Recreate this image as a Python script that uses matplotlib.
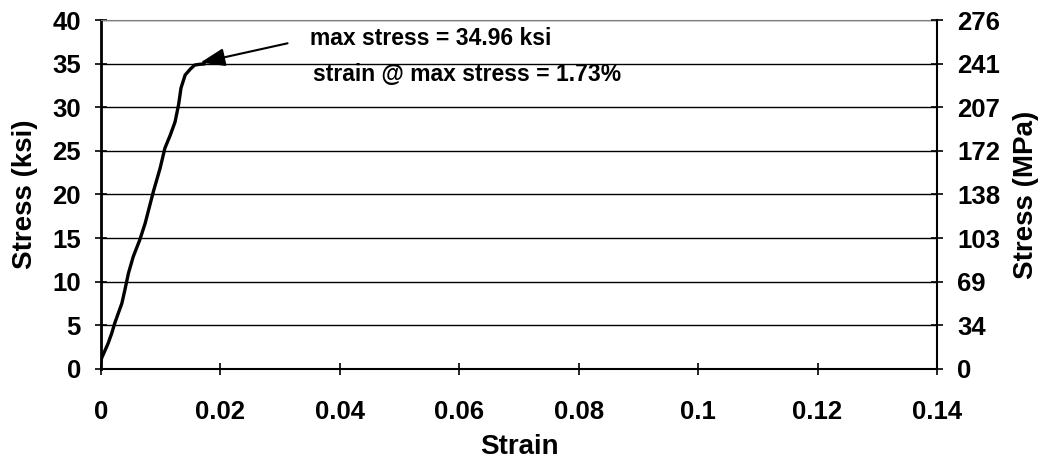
import numpy as np
import matplotlib.pyplot as plt

plt.rcParams['font.family'] = ['Liberation Sans', 'DejaVu Sans']
plt.rcParams['font.weight'] = 'bold'

# stress-strain test data
strain = [0.0, 0.0001, 0.0012, 0.0018, 0.0023, 0.0035, 0.0040, 0.0046, 0.0054, 0.0065,
          0.0074, 0.0088, 0.0099, 0.0107, 0.0116, 0.0124, 0.0130, 0.0134, 0.0141,
          0.0150, 0.0157, 0.0166, 0.0173]
stress = [0.84, 1.23, 2.94, 4.09, 5.24, 7.53, 9.05, 10.97, 12.87, 14.8,
          16.7, 20.4, 23.0, 25.3, 26.8, 28.3, 30.3, 32.2, 33.7,
          34.4, 34.84, 34.93, 34.96]

ksi_ticks = [0, 5, 10, 15, 20, 25, 30, 35, 40]
mpa_labels = [str(int(round(k * 6.895))) for k in ksi_ticks]
strain_ticks = [0, 0.02, 0.04, 0.06, 0.08, 0.1, 0.12, 0.14]
strain_labels = ['0', '0.02', '0.04', '0.06', '0.08', '0.1', '0.12', '0.14']

fig = plt.figure(figsize=(10.42, 4.61), dpi=100)
ax = fig.add_axes([0.0969, 0.1996, 0.8023, 0.757])

for k in ksi_ticks[1:]:
    ax.axhline(k, color='black', lw=1.0, zorder=1)

ax.plot(strain, stress, color='black', lw=2.4, solid_capstyle='round',
        solid_joinstyle='round', zorder=3)

ax.set_xlim(0, 0.14)
ax.set_ylim(0, 40)
ax.set_xticks(strain_ticks)
ax.set_xticklabels(strain_labels)
ax.set_yticks(ksi_ticks)
ax.tick_params(axis='both', labelsize=18.5, direction='inout', length=9, width=1.2, color='black')
ax.tick_params(axis='x', pad=18)
ax.tick_params(axis='y', pad=10)
ax.set_xlabel('Strain', fontsize=20, fontweight='bold', labelpad=7)
ax.set_ylabel('Stress (ksi)', fontsize=20, fontweight='bold', labelpad=10)

ax.spines['top'].set_color('#808080')
ax.spines['left'].set_linewidth(2)
ax.spines['bottom'].set_linewidth(1.5)
ax.spines['right'].set_visible(False)

ax2 = ax.twinx()
ax2.set_ylim(0, 40)
ax2.set_yticks(ksi_ticks)
ax2.set_yticklabels(mpa_labels)
ax2.tick_params(axis='y', labelsize=18.5, direction='inout', length=9, width=1.2, pad=10)
ax2.set_ylabel('Stress (MPa)', fontsize=20, fontweight='bold', labelpad=9)
ax2.spines['right'].set_linewidth(1.5)
ax2.spines['top'].set_visible(False)
ax2.spines['left'].set_visible(False)
ax2.spines['bottom'].set_visible(False)

ax.annotate('', xy=(0.0162, 35.05), xytext=(0.0317, 37.4),
            arrowprops=dict(arrowstyle='-|>,head_length=1.5,head_width=0.55',
                            color='black', lw=1.5), zorder=4)
ax.text(0.0350, 37.9, 'max stress = 34.96 ksi', fontsize=16.5, fontweight='bold',
        va='center', ha='left')
ax.text(0.0355, 33.7, 'strain @ max stress = 1.73%', fontsize=16.5, fontweight='bold',
        va='center', ha='left')

fig.savefig('out.png', dpi=100)
